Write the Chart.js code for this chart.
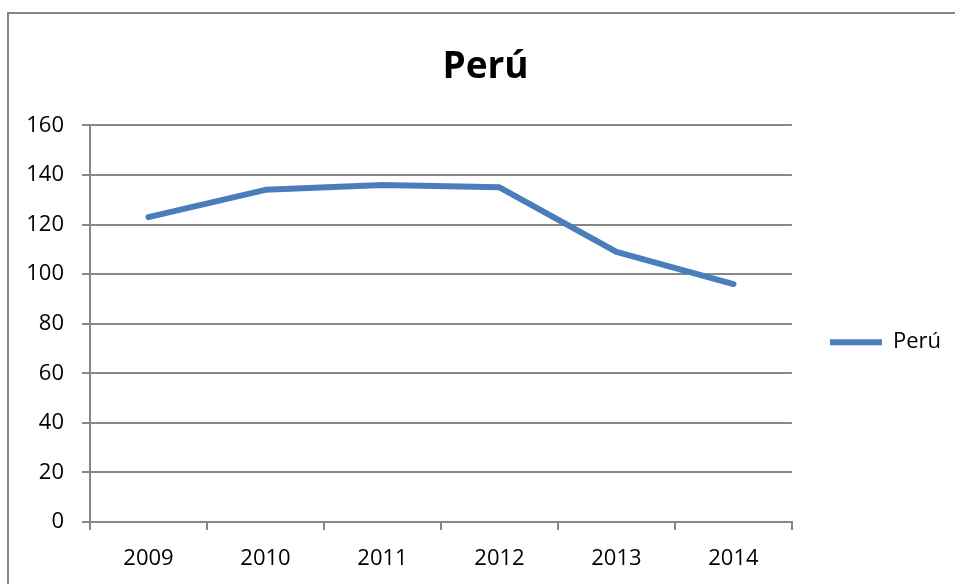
<!DOCTYPE html>
<html>
<head>
<meta charset="utf-8">
<script src="https://cdn.jsdelivr.net/npm/chart.js@4"></script>
<style>
  html, body { margin: 0; padding: 0; background: #fff; overflow: hidden; }
  #frame { position: absolute; left: 7px; top: 12px; width: 1000px; height: 640px; border: 2px solid #878787; }
  #wrap { position: absolute; left: 0; top: 0; width: 955px; height: 584px; }
</style>
</head>
<body>
<div id="frame"></div>
<div id="wrap"><canvas id="peruChart"></canvas></div>
<script>
const years = ["2009", "2010", "2011", "2012", "2013", "2014"];
const peruValues = [123, 134, 136, 135, 109, 96];
const seriesName = "Perú";

const gridGray = "#878787";
const lineBlue = "#4A7EBB";
const font = "'Open Sans', 'Noto Sans', sans-serif";

Chart.defaults.font.family = font;
Chart.defaults.color = "#000";

const ctx = document.getElementById("peruChart").getContext("2d");

new Chart(ctx, {
  type: "line",
  data: {
    labels: years,
    datasets: [{
      label: seriesName,
      data: peruValues,
      borderColor: lineBlue,
      backgroundColor: lineBlue,
      borderWidth: 6,
      borderCapStyle: "round",
      borderJoinStyle: "round",
      pointRadius: 0,
      tension: 0
    }]
  },
  options: {
    responsive: true,
    maintainAspectRatio: false,
    animation: false,
    layout: { padding: { left: 20, right: 4, top: 0, bottom: 0 } },
    scales: {
      x: {
        offset: true,
        grid: {
          offset: true,
          drawOnChartArea: false,
          drawTicks: true,
          tickLength: 8,
          color: gridGray,
          lineWidth: 2
        },
        border: { display: true, color: gridGray, width: 2 },
        ticks: { font: { size: 22 }, padding: 16, maxRotation: 0 },
        afterFit: (scale) => { scale.height = 62; }
      },
      y: {
        min: 0,
        max: 160,
        ticks: { stepSize: 20, font: { size: 22 }, padding: 18 },
        grid: { color: gridGray, lineWidth: 2, tickLength: 8 },
        border: { display: true, color: gridGray, width: 2 },
        afterFit: (scale) => { scale.width = 70; }
      }
    },
    plugins: {
      title: {
        display: true,
        text: seriesName,
        font: { size: 37, weight: "bold" },
        color: "#000",
        padding: { top: 45, bottom: 36 }
      },
      legend: {
        position: "right",
        fullSize: false,
        title: { display: true, text: "", font: { size: 10 }, padding: { top: 25, bottom: 0 } },
        labels: {
          usePointStyle: true,
          pointStyle: "line",
          pointStyleWidth: 52,
          padding: 38,
          font: { size: 22 },
          color: "#000"
        }
      },
      tooltip: { enabled: false }
    }
  }
});
</script>
</body>
</html>
